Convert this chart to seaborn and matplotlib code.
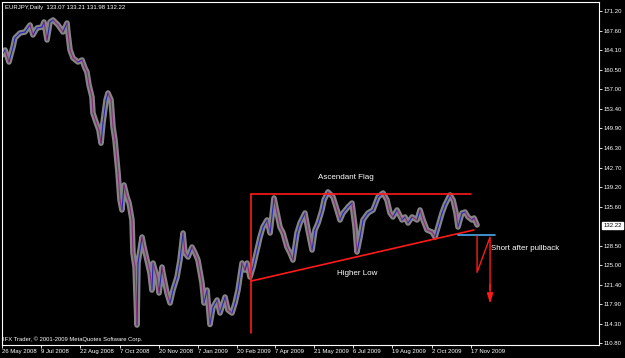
import numpy as np
import pandas as pd
import matplotlib
matplotlib.use("Agg")
import matplotlib.pyplot as plt
import seaborn as sns

# ---- data (bar index, price) ----
bars = [0, 2.5, 5.7, 9, 10.6, 14.7, 18.8, 22.9, 25.3, 28.6, 32.7, 34.3, 36.8, 39.2, 41.7,
        45.8, 49.8, 53.1, 53.9, 55.6, 58, 62.1, 65.4, 67.8, 69.4, 71.1, 73.5, 74.3, 76.8,
        79.2, 80.9, 82.5, 85, 86.6, 89.1, 90.7, 92.3, 94.8, 96.4, 98, 99.7, 102.1, 103.8,
        106.2, 107, 108.7, 110.3, 111.1, 114.4, 116, 118.5, 120.9, 122.5, 123.4, 126.6,
        128.3, 130.7, 131.5, 134.8, 137.3, 139.7, 143, 145.4, 147.9, 149.5, 152, 155.2,
        157.7, 160.1, 163.4, 165, 167.5, 169.9, 172.4, 175.7, 178.1, 182.2, 184.6, 187.9,
        190.4, 192.8, 196.1, 198.5, 200.2, 202.6, 205.1, 208.3, 210.8, 213.2, 216.5, 219,
        222.2, 224.7, 227.1, 229.6, 232.8, 235.3, 237.7, 241, 243.5, 247.5, 250, 253.3,
        255.7, 258.2, 261.4, 263.1, 266.3, 270.4, 273.7, 276.1, 278.6, 282.7, 285.9, 288.4,
        290, 292.5, 294.9, 299, 303.1, 307.2, 311.3, 314.5, 317, 319.4, 322.7, 326.8, 329.2,
        331.7, 335, 339.1, 341.5, 344, 347.2, 351.3, 353.8, 356.2, 359.5, 361.9, 366,
        368.5, 370.9, 372.5, 375.8, 378.3, 380.7, 384, 385.6, 388.1]
prices = [163.25, 164.16, 161.97, 164.70, 166.34, 167.25, 167.43, 168.71, 166.89, 168.16,
          168.34, 169.25, 165.98, 169.25, 169.62, 168.71, 167.43, 169.07, 167.25, 164.16,
          162.70, 161.97, 162.34, 160.88, 160.15, 157.79, 155.60, 152.69, 151.05, 149.60,
          147.20, 150.87, 155.06, 156.33, 155.06, 150.14, 147.78, 141.77, 136.86, 135.04,
          139.59, 137.41, 136.31, 133.22, 127.21, 124.66, 114.10, 125.39, 130.12, 128.30,
          125.93, 123.57, 120.47, 125.39, 122.84, 119.93, 124.66, 123.57, 119.93, 118.11,
          120.47, 122.84, 125.93, 130.85, 127.21, 126.48, 128.30, 127.21, 125.93, 121.75,
          118.11, 120.47, 114.20, 117.38, 118.66, 116.29, 119.20, 116.84, 116.29, 118.11,
          120.47, 125.39, 124.11, 125.39, 122.84, 124.66, 127.75, 130.12, 131.94, 133.22,
          130.85, 137.22, 134.49, 131.94, 130.85, 128.30, 127.21, 125.93, 130.85, 132.67,
          134.49, 131.40, 127.76, 131.40, 132.67, 135.04, 136.86, 138.32, 137.41, 135.04,
          133.22, 134.49, 135.59, 136.31, 131.94, 127.40, 130.12, 133.22, 134.49, 135.04,
          137.41, 138.13, 136.86, 134.49, 133.77, 135.04, 133.22, 133.77, 132.67, 133.77,
          133.22, 135.04, 133.22, 131.40, 131.03, 130.12, 131.94, 134.49, 135.95, 137.77,
          136.86, 134.49, 131.94, 134.49, 134.67, 133.77, 133.22, 133.58, 132.31]

date_ticks = [0, 32, 64, 96, 128, 160, 192, 223, 255, 287, 319, 351, 383]
date_labels = ["26 May 2008", "9 Jul 2008", "22 Aug 2008", "7 Oct 2008", "20 Nov 2008",
               "7 Jan 2009", "20 Feb 2009", "7 Apr 2009", "21 May 2009", "6 Jul 2009",
               "19 Aug 2009", "2 Oct 2009", "17 Nov 2009"]
price_ticks = [171.20, 167.60, 164.10, 160.50, 157.00, 153.40, 149.90, 146.30, 142.70,
               139.20, 135.60, 128.50, 125.00, 121.40, 117.90, 114.30, 110.80]
last_price = 132.22
title_text = "EURJPY,Daily  133.07 133.21 131.98 132.22"
copyright_text = "IFX Trader, \u00a9 2001-2009 MetaQuotes Software Corp."

# ---- style ----
sns.set_style("dark", {"axes.facecolor": "black", "figure.facecolor": "black",
                       "axes.edgecolor": "white", "text.color": "white",
                       "xtick.color": "white", "ytick.color": "white"})
plt.rcParams["font.family"] = ["Liberation Sans", "DejaVu Sans"]

fig = plt.figure(figsize=(6.25, 3.58), dpi=100)
ax = fig.add_axes([2 / 625, 13 / 358, 597 / 625, 343 / 358])
ax.set_facecolor("black")

df = pd.DataFrame({"bar": bars, "price": prices})
sns.lineplot(data=df, x="bar", y="price", ax=ax, color="#858585", lw=4.0,
             sort=False, estimator=None)

rows = []
for i in range(len(bars) - 1):
    d = "up" if prices[i + 1] >= prices[i] else "down"
    rows.append((i, bars[i], prices[i], d))
    rows.append((i, bars[i + 1], prices[i + 1], d))
seg = pd.DataFrame(rows, columns=["seg", "bar", "price", "dir"])
sns.lineplot(data=seg, x="bar", y="price", units="seg", hue="dir", estimator=None,
             palette={"up": "#2323b8", "down": "#8a2a7c"}, lw=0.8, legend=False,
             sort=False, ax=ax)

# ---- annotations ----
red = "#ff1a1a"
ax.plot([203.4, 383.2], [137.9, 137.9], color=red, lw=1.2)
ax.plot([203.4, 203.4], [137.9, 112.6], color=red, lw=1.2)
ax.plot([203.4, 385.5], [122.1, 131.4], color=red, lw=1.2)
ax.plot([372.5, 402.8], [130.5, 130.5], color="#4aa8f0", lw=1.2)
ax.plot([388.1, 388.1, 398.7, 398.7], [130.3, 123.7, 130.1, 120.5], color=red, lw=1.0)
ax.annotate("", xy=(398.7, 118.0), xytext=(398.7, 121.5),
            arrowprops=dict(arrowstyle="-|>,head_length=0.6,head_width=0.18",
                            color=red, lw=1.0, shrinkA=0, shrinkB=0))
ax.text(281, 140.9, "Ascendant Flag", color="white", fontsize=5.8, ha="center", va="center")
ax.text(290, 123.4, "Higher Low", color="white", fontsize=5.8, ha="center", va="center")
ax.text(399.5, 128.1, "Short after pullback", color="white", fontsize=5.7,
        ha="left", va="center")

ax.text(0.005, 0.985, title_text, transform=ax.transAxes, color="white",
        fontsize=4.3, ha="left", va="center")
ax.text(0.002, 0.018, copyright_text, transform=ax.transAxes, color="white",
        fontsize=4.2, ha="left", va="center")

# ---- axes ----
ax.set_xlim(0, 487.7)
ax.set_ylim(110.47, 172.89)
ax.yaxis.tick_right()
ax.set_yticks(price_ticks)
ax.set_yticklabels([f"{v:.2f}" for v in price_ticks])
ax.set_xticks(date_ticks)
ax.set_xticklabels(date_labels)
for lab in ax.get_xticklabels():
    lab.set_horizontalalignment("left")
ax.tick_params(axis="y", which="both", length=2, width=0.6, pad=1.5, labelsize=4.3,
               right=True, left=False, labelcolor="white")
ax.tick_params(axis="x", which="both", length=2, width=0.6, pad=1.0, labelsize=4.3,
               bottom=True, labelcolor="white")
ax.set_xlabel("")
ax.set_ylabel("")
ax.grid(False)
for sp in ax.spines.values():
    sp.set_color("white")
    sp.set_linewidth(0.8)

ax.annotate(f"{last_price:.2f}", xy=(1.0, last_price), xycoords=("axes fraction", "data"),
            xytext=(3, 0), textcoords="offset points", color="black", fontsize=4.3,
            ha="left", va="center",
            bbox=dict(boxstyle="square,pad=0.15", fc="white", ec="white"))

fig.savefig("out.png", dpi=100, facecolor="black")
